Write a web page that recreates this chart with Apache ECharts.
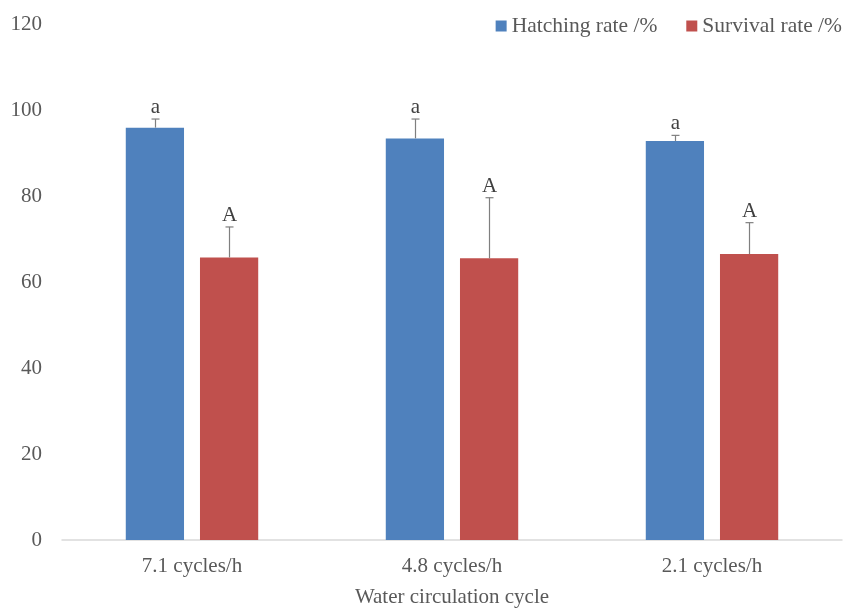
<!DOCTYPE html>
<html>
<head>
<meta charset="utf-8">
<script src="https://cdn.jsdelivr.net/npm/echarts@6/dist/echarts.min.js"></script>
<style>
  html, body { margin: 0; padding: 0; background: #fff; }
  #chart { width: 847px; height: 608px; }
</style>
</head>
<body>
<div id="chart"></div>
<script>
// Water circulation cycle experiment: hatching and survival rates
const categories = ['7.1 cycles/h', '4.8 cycles/h', '2.1 cycles/h'];
const hatchingRate = [95.9, 93.4, 92.8];
const hatchingErr = [2.0, 4.5, 1.3];
const hatchingLetters = ['a', 'a', 'a'];
const survivalRate = [65.7, 65.5, 66.5];
const survivalErr = [7.1, 14.1, 7.3];
const survivalLetters = ['A', 'A', 'A'];
const yTicks = { min: 0, max: 120, interval: 20 };

const FONT = '"Liberation Serif", "Times New Roman", serif';
const TEXT = '#595959';
const BAR_W = 0.224;   // bar width as a fraction of the category band
const BAR_GAP = 0.274; // gap between bars as a fraction of bar width

// Upper error whisker with a significance letter above it
function errorSeries(name, values, errs, letters, side) {
  return {
    name: name + ' err',
    type: 'custom',
    z: 5,
    data: values.map((v, i) => [i, v, v + errs[i], letters[i]]),
    renderItem: function (params, api) {
      const band = api.size([1, 0])[0];
      const bw = band * BAR_W;
      const off = side * (bw / 2 + bw * BAR_GAP / 2);
      const base = api.coord([api.value(0), api.value(1)]);
      const top = api.coord([api.value(0), api.value(2)]);
      const x = Math.round(base[0] + off) + 0.5;
      const style = { stroke: '#7f7f7f', lineWidth: 1.2 };
      return {
        type: 'group',
        children: [
          { type: 'line', shape: { x1: x, y1: base[1], x2: x, y2: top[1] }, style: style },
          { type: 'line', shape: { x1: x - 4, y1: top[1], x2: x + 4, y2: top[1] }, style: style },
          {
            type: 'text',
            style: {
              x: x, y: top[1] - 1,
              text: api.value(3),
              fill: '#404040',
              font: '21px ' + FONT,
              align: 'center',
              verticalAlign: 'bottom'
            }
          }
        ]
      };
    }
  };
}

const chart = echarts.init(document.getElementById('chart'), null, { renderer: 'canvas' });
chart.setOption({
  animation: false,
  backgroundColor: '#ffffff',
  textStyle: { fontFamily: FONT, color: TEXT },
  grid: { left: 62, right: 5, top: 24, bottom: 68, containLabel: false, outerBoundsMode: 'none' },
  legend: {
    data: ['Hatching rate /%', 'Survival rate /%'],
    right: 0,
    top: 10,
    itemWidth: 11,
    itemHeight: 11,
    itemGap: 29,
    icon: 'rect',
    textStyle: { fontFamily: FONT, fontSize: 21.5, color: TEXT, padding: [0, 0, 0, 0] }
  },
  xAxis: {
    type: 'category',
    data: categories,
    name: 'Water circulation cycle',
    nameLocation: 'middle',
    nameGap: 47,
    nameTextStyle: { fontFamily: FONT, fontSize: 21, color: TEXT },
    axisLine: { lineStyle: { color: '#d9d9d9', width: 1.5 } },
    axisTick: { show: false },
    axisLabel: { fontFamily: FONT, fontSize: 21, color: TEXT, margin: 16 }
  },
  yAxis: {
    type: 'value',
    min: yTicks.min,
    max: yTicks.max,
    interval: yTicks.interval,
    axisLine: { show: false },
    axisTick: { show: false },
    splitLine: { show: false },
    axisLabel: { fontFamily: FONT, fontSize: 21, color: TEXT, margin: 20 }
  },
  series: [
    {
      name: 'Hatching rate /%',
      type: 'bar',
      data: hatchingRate,
      barWidth: (BAR_W * 100) + '%',
      barGap: (BAR_GAP * 100) + '%',
      itemStyle: { color: '#4f81bd' }
    },
    {
      name: 'Survival rate /%',
      type: 'bar',
      data: survivalRate,
      barWidth: (BAR_W * 100) + '%',
      barGap: (BAR_GAP * 100) + '%',
      itemStyle: { color: '#c0504d' }
    },
    errorSeries('Hatching rate /%', hatchingRate, hatchingErr, hatchingLetters, -1),
    errorSeries('Survival rate /%', survivalRate, survivalErr, survivalLetters, 1)
  ]
});
</script>
</body>
</html>
